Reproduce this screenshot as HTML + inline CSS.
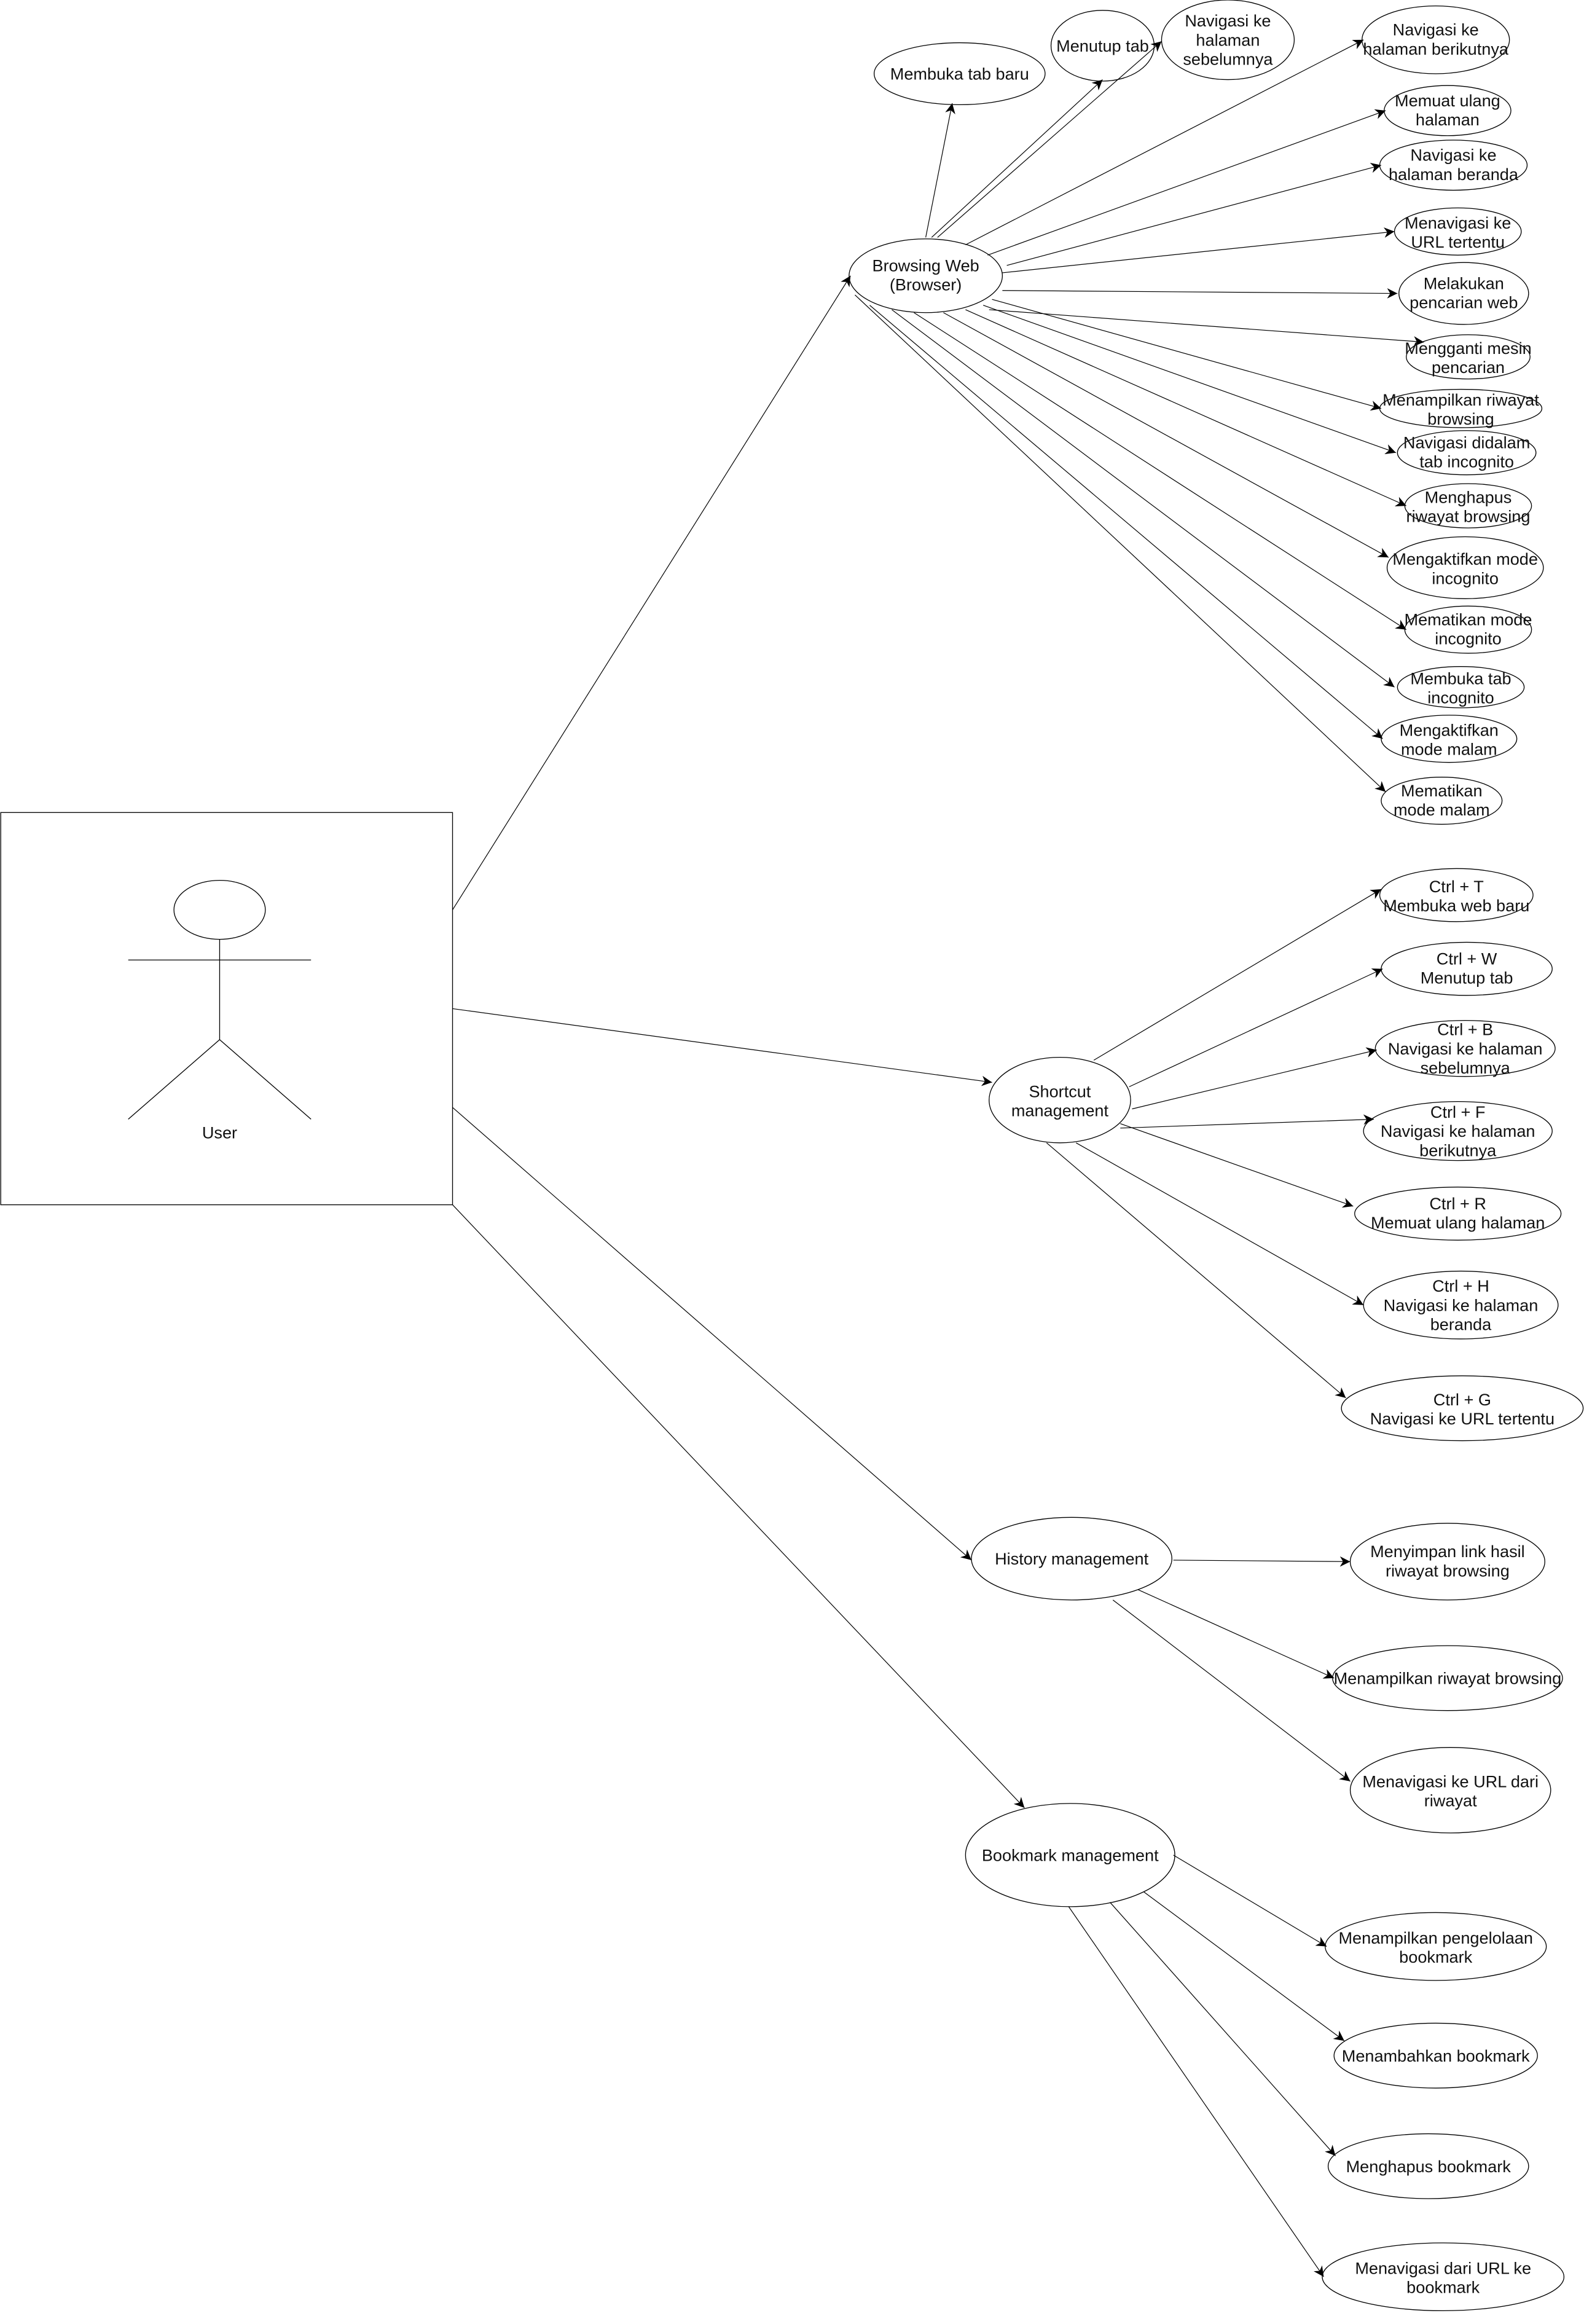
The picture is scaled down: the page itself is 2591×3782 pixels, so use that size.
<!DOCTYPE html>
<html><head><meta charset="utf-8"><style>
html,body{margin:0;padding:0;background:#fff}
svg{display:block}
text{font-family:"Liberation Sans",Arial,sans-serif;font-size:11.3px;fill:#111;text-anchor:middle}
</style></head><body>
<svg width="2591" height="3782" viewBox="0 0 1080 1576" preserveAspectRatio="none" xmlns="http://www.w3.org/2000/svg">
<defs><marker id="a" viewBox="0 0 10 10" refX="10" refY="5" markerWidth="7" markerHeight="7" markerUnits="userSpaceOnUse" orient="auto"><path d="M0,0 L10,5 L0,10 L3,5 Z" fill="#000"/></marker></defs>
<g fill="none" stroke="#000" stroke-width="0.55">
<rect x="0.5" y="551" width="306.5" height="266" fill="#fff"/>
<ellipse cx="149" cy="617" rx="31" ry="20"/>
<line x1="149" y1="637" x2="149" y2="705"/>
<line x1="87" y1="651" x2="211" y2="651"/>
<line x1="149" y1="705" x2="87" y2="759"/>
<line x1="149" y1="705" x2="211" y2="759"/>
</g>
<text x="149" y="772">User</text>
<g fill="none" stroke="#000" stroke-width="0.5" marker-end="url(#a)">
<line x1="307" y1="617" x2="577" y2="187"/>
<line x1="307" y1="684" x2="673" y2="734"/>
<line x1="307" y1="751" x2="659" y2="1058"/>
<line x1="307" y1="817" x2="695" y2="1226"/>
<line x1="628" y1="161" x2="646" y2="70"/>
<line x1="632" y1="161" x2="748" y2="54"/>
<line x1="636" y1="161" x2="788" y2="28"/>
<line x1="655" y1="166" x2="925" y2="27"/>
<line x1="670" y1="173" x2="940" y2="75"/>
<line x1="683" y1="180" x2="937" y2="112"/>
<line x1="680" y1="185" x2="946" y2="157"/>
<line x1="680" y1="197" x2="948" y2="199"/>
<line x1="671" y1="210" x2="966" y2="232"/>
<line x1="673" y1="203" x2="937" y2="277"/>
<line x1="667" y1="207" x2="947" y2="307"/>
<line x1="655" y1="210" x2="954" y2="343"/>
<line x1="640" y1="212" x2="942" y2="378"/>
<line x1="620" y1="212" x2="954" y2="427"/>
<line x1="605" y1="210" x2="946" y2="466"/>
<line x1="590" y1="207" x2="938" y2="501"/>
<line x1="580" y1="200" x2="940" y2="537"/>
<line x1="742" y1="719" x2="937" y2="603"/>
<line x1="766" y1="737" x2="938" y2="657"/>
<line x1="768" y1="752" x2="934" y2="712"/>
<line x1="760" y1="765" x2="932" y2="759"/>
<line x1="760" y1="762" x2="918" y2="818"/>
<line x1="730" y1="775" x2="925" y2="885"/>
<line x1="710" y1="775" x2="913" y2="948"/>
<line x1="796" y1="1058" x2="916" y2="1059"/>
<line x1="772" y1="1078" x2="905" y2="1138"/>
<line x1="755" y1="1085" x2="916" y2="1208"/>
<line x1="796" y1="1258" x2="900" y2="1320"/>
<line x1="776" y1="1283" x2="912" y2="1384"/>
<line x1="753" y1="1290" x2="906" y2="1462"/>
<line x1="725" y1="1293" x2="898" y2="1544"/>
</g>
<g fill="none" stroke="#000" stroke-width="0.55">
<ellipse cx="628" cy="187" rx="52" ry="25"/>
<ellipse cx="651" cy="50" rx="58" ry="21"/>
<ellipse cx="748" cy="31" rx="35" ry="24"/>
<ellipse cx="833" cy="27" rx="45" ry="27"/>
<ellipse cx="974" cy="27" rx="50" ry="23"/>
<ellipse cx="982" cy="75" rx="43" ry="17"/>
<ellipse cx="986" cy="112" rx="50" ry="17"/>
<ellipse cx="989" cy="157" rx="43" ry="16"/>
<ellipse cx="993" cy="199" rx="44" ry="21"/>
<ellipse cx="996" cy="242" rx="42" ry="15"/>
<ellipse cx="991" cy="277" rx="55" ry="13"/>
<ellipse cx="995" cy="307" rx="47" ry="15"/>
<ellipse cx="996" cy="343" rx="43" ry="15"/>
<ellipse cx="994" cy="385" rx="53" ry="21"/>
<ellipse cx="996" cy="427" rx="43" ry="16"/>
<ellipse cx="991" cy="466" rx="43" ry="14"/>
<ellipse cx="983" cy="501" rx="46" ry="16"/>
<ellipse cx="978" cy="543" rx="41" ry="16"/>
<ellipse cx="719" cy="746" rx="48" ry="29"/>
<ellipse cx="988" cy="607" rx="52" ry="18"/>
<ellipse cx="995" cy="657" rx="58" ry="18"/>
<ellipse cx="994" cy="711" rx="61" ry="19"/>
<ellipse cx="989" cy="767" rx="64" ry="20"/>
<ellipse cx="989" cy="823" rx="70" ry="18"/>
<ellipse cx="991" cy="885" rx="66" ry="23"/>
<ellipse cx="992" cy="955" rx="82" ry="22"/>
<ellipse cx="727" cy="1057" rx="68" ry="28"/>
<ellipse cx="982" cy="1059" rx="66" ry="26"/>
<ellipse cx="982" cy="1138" rx="78" ry="22"/>
<ellipse cx="984" cy="1214" rx="68" ry="29"/>
<ellipse cx="726" cy="1258" rx="71" ry="35"/>
<ellipse cx="974" cy="1320" rx="75" ry="23"/>
<ellipse cx="974" cy="1394" rx="69" ry="22"/>
<ellipse cx="969" cy="1469" rx="68" ry="22"/>
<ellipse cx="979" cy="1544" rx="82" ry="23"/>
</g>
<text x="628" y="184">Browsing Web</text><text x="628" y="197">(Browser)</text>
<text x="651" y="54">Membuka tab baru</text>
<text x="748" y="35">Menutup tab</text>
<text x="833" y="18">Navigasi ke</text><text x="833" y="31">halaman</text><text x="833" y="44">sebelumnya</text>
<text x="974" y="24">Navigasi ke</text><text x="974" y="37">halaman berikutnya</text>
<text x="982" y="72">Memuat ulang</text><text x="982" y="85">halaman</text>
<text x="986" y="109">Navigasi ke</text><text x="986" y="122">halaman beranda</text>
<text x="989" y="155">Menavigasi  ke</text><text x="989" y="168">URL tertentu</text>
<text x="993" y="196">Melakukan</text><text x="993" y="209">pencarian web</text>
<text x="996" y="240">Mengganti mesin</text><text x="996" y="253">pencarian</text>
<text x="991" y="275">Menampilkan riwayat</text><text x="991" y="288">browsing</text>
<text x="995" y="304">Navigasi didalam</text><text x="995" y="317">tab incognito</text>
<text x="996" y="341">Menghapus</text><text x="996" y="354">riwayat browsing</text>
<text x="994" y="383">Mengaktifkan mode</text><text x="994" y="396">incognito</text>
<text x="996" y="424">Mematikan mode</text><text x="996" y="437">incognito</text>
<text x="991" y="464">Membuka tab</text><text x="991" y="477">incognito</text>
<text x="983" y="499">Mengaktifkan</text><text x="983" y="512">mode malam</text>
<text x="978" y="540">Mematikan</text><text x="978" y="553">mode malam</text>
<text x="719" y="744">Shortcut</text><text x="719" y="757">management</text>
<text x="988" y="605">Ctrl + T</text><text x="988" y="618">Membuka web baru</text>
<text x="995" y="654">Ctrl + W</text><text x="995" y="667">Menutup tab</text>
<text x="994" y="702">Ctrl + B</text><text x="994" y="715">Navigasi ke halaman</text><text x="994" y="728">sebelumnya</text>
<text x="989" y="758">Ctrl + F</text><text x="989" y="771">Navigasi ke halaman</text><text x="989" y="784">berikutnya</text>
<text x="989" y="820">Ctrl + R</text><text x="989" y="833">Memuat ulang halaman</text>
<text x="991" y="876">Ctrl + H</text><text x="991" y="889">Navigasi ke halaman</text><text x="991" y="902">beranda</text>
<text x="992" y="953">Ctrl + G</text><text x="992" y="966">Navigasi ke URL tertentu</text>
<text x="727" y="1061">History management</text>
<text x="982" y="1056">Menyimpan link hasil</text><text x="982" y="1069">riwayat browsing</text>
<text x="982" y="1142">Menampilkan riwayat browsing</text>
<text x="984" y="1212">Menavigasi ke URL dari</text><text x="984" y="1225">riwayat</text>
<text x="726" y="1262">Bookmark management</text>
<text x="974" y="1318">Menampilkan pengelolaan</text><text x="974" y="1331">bookmark</text>
<text x="974" y="1398">Menambahkan bookmark</text>
<text x="969" y="1473">Menghapus bookmark</text>
<text x="979" y="1542">Menavigasi dari URL ke</text><text x="979" y="1555">bookmark</text>
</svg>
</body></html>
